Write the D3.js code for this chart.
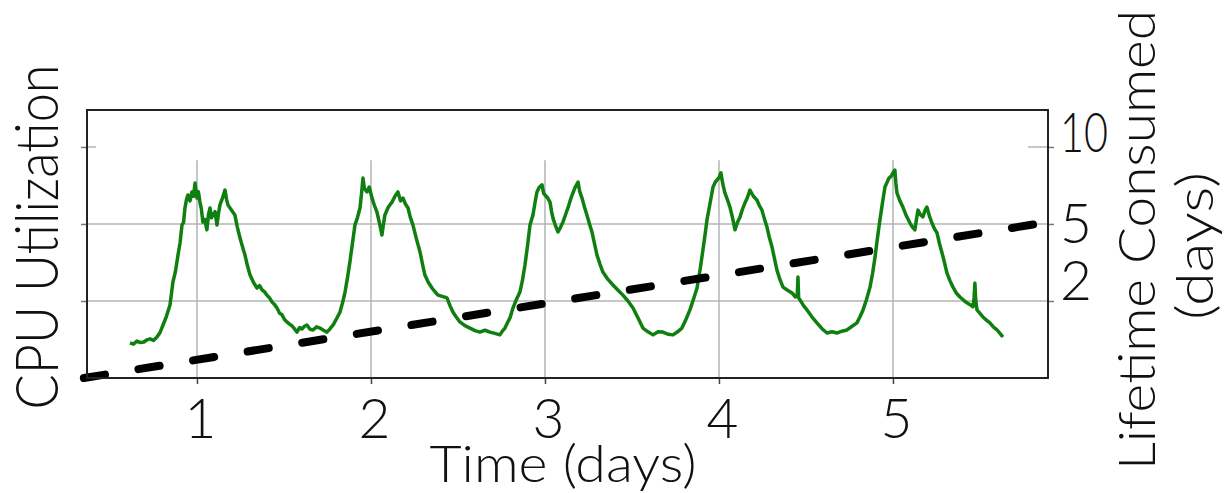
<!DOCTYPE html>
<html>
<head>
<meta charset="utf-8">
<script src="https://cdn.jsdelivr.net/npm/d3@7"></script>
<style>
  body { margin: 0; background: #fff; }
  text { font-family: Lato, "DejaVu Sans", sans-serif; font-weight: 300; fill: #111; }
</style>
</head>
<body>
<div id="chart"></div>
<script>

// Time axis (days) of the CPU trace
const timeDays = [
  0.615, 0.635, 0.655, 0.675, 0.695, 0.713, 0.730, 0.750, 0.770, 0.788, 0.805, 0.825, 0.845, 0.862, 0.876, 0.891,
  0.903, 0.914, 0.923, 0.931, 0.940, 0.948, 0.960, 0.971, 0.980, 0.989, 0.995, 1.000, 1.008, 1.017, 1.025, 1.034,
  1.045, 1.057, 1.066, 1.075, 1.083, 1.092, 1.104, 1.115, 1.124, 1.132, 1.147, 1.161, 1.170, 1.178, 1.198, 1.218,
  1.232, 1.247, 1.262, 1.276, 1.290, 1.305, 1.325, 1.345, 1.360, 1.374, 1.388, 1.402, 1.417, 1.431, 1.445, 1.460,
  1.475, 1.489, 1.503, 1.517, 1.532, 1.546, 1.560, 1.575, 1.590, 1.603, 1.618, 1.632, 1.650, 1.667, 1.687, 1.707,
  1.727, 1.747, 1.765, 1.782, 1.800, 1.822, 1.837, 1.851, 1.865, 1.879, 1.893, 1.908, 1.922, 1.937, 1.946, 1.954,
  1.962, 1.977, 1.990, 2.006, 2.020, 2.034, 2.050, 2.063, 2.072, 2.080, 2.100, 2.121, 2.138, 2.155, 2.170, 2.184,
  2.198, 2.213, 2.227, 2.241, 2.262, 2.282, 2.296, 2.310, 2.330, 2.351, 2.368, 2.385, 2.410, 2.437, 2.454, 2.471,
  2.490, 2.511, 2.540, 2.569, 2.598, 2.626, 2.655, 2.684, 2.712, 2.741, 2.755, 2.770, 2.785, 2.799, 2.816, 2.836,
  2.856, 2.870, 2.885, 2.900, 2.914, 2.931, 2.943, 2.954, 2.968, 2.983, 2.992, 3.000, 3.015, 3.029, 3.038, 3.046,
  3.060, 3.075, 3.090, 3.103, 3.118, 3.132, 3.150, 3.172, 3.190, 3.200, 3.213, 3.227, 3.241, 3.256, 3.270, 3.285,
  3.299, 3.316, 3.333, 3.362, 3.391, 3.420, 3.448, 3.477, 3.506, 3.535, 3.563, 3.592, 3.621, 3.650, 3.678, 3.707,
  3.736, 3.762, 3.787, 3.810, 3.833, 3.853, 3.874, 3.891, 3.908, 3.920, 3.931, 3.948, 3.966, 3.978, 3.989, 4.000,
  4.011, 4.022, 4.034, 4.048, 4.063, 4.078, 4.092, 4.106, 4.121, 4.135, 4.149, 4.163, 4.178, 4.198, 4.218, 4.232,
  4.247, 4.262, 4.276, 4.290, 4.305, 4.320, 4.333, 4.350, 4.368, 4.394, 4.420, 4.440, 4.450, 4.454, 4.458, 4.466,
  4.486, 4.506, 4.535, 4.563, 4.592, 4.621, 4.650, 4.678, 4.707, 4.736, 4.765, 4.793, 4.810, 4.828, 4.848, 4.868,
  4.883, 4.897, 4.911, 4.925, 4.940, 4.954, 4.966, 4.977, 4.990, 5.000, 5.011, 5.017, 5.023, 5.040, 5.057, 5.078,
  5.098, 5.112, 5.126, 5.135, 5.144, 5.158, 5.172, 5.185, 5.195, 5.210, 5.224, 5.238, 5.253, 5.268, 5.282, 5.296,
  5.310, 5.328, 5.345, 5.365, 5.385, 5.405, 5.425, 5.443, 5.460, 5.466, 5.471, 5.476, 5.483, 5.500, 5.517, 5.537,
  5.557, 5.578, 5.598, 5.615, 5.632
];

// CPU utilization (%)
const cpuUtil = [
  11.4, 11.0, 12.0, 11.5, 11.7, 12.4, 12.7, 12.2, 13.3, 14.8, 17.2, 20.1, 23.7, 31.2, 34.5, 39.9,
  44.0, 49.7, 50.5, 55.2, 58.0, 59.4, 57.5, 60.4, 59.0, 63.3, 60.0, 58.4, 60.5, 57.1, 55.0, 50.6,
  51.5, 48.1, 53.0, 55.2, 52.0, 52.9, 54.0, 49.7, 53.5, 56.2, 58.5, 61.0, 58.0, 56.2, 54.5, 52.9,
  49.0, 45.5, 42.5, 39.9, 36.5, 33.4, 31.0, 29.2, 30.0, 28.6, 28.0, 26.9, 26.0, 24.7, 23.9, 22.7,
  21.0, 20.5, 19.0, 18.2, 17.5, 16.9, 16.0, 14.9, 16.4, 15.9, 16.8, 17.2, 15.8, 15.6, 16.6, 16.2,
  15.5, 14.9, 16.0, 17.2, 19.0, 21.4, 24.5, 27.9, 32.5, 37.7, 43.5, 49.7, 52.0, 55.2, 60.0, 64.9,
  61.5, 60.4, 62.0, 58.4, 56.0, 53.9, 50.0, 46.4, 50.0, 52.9, 55.5, 57.1, 59.0, 60.4, 57.5, 58.4,
  56.5, 55.2, 52.0, 49.7, 45.0, 40.9, 37.0, 33.4, 31.0, 29.2, 28.0, 26.9, 26.5, 26.0, 23.5, 21.4,
  19.8, 18.2, 17.0, 16.2, 15.4, 14.9, 15.5, 14.9, 14.5, 14.0, 15.2, 16.2, 18.0, 19.5, 22.7, 25.5,
  27.9, 31.5, 36.7, 43.0, 49.7, 52.9, 57.0, 60.4, 62.0, 62.7, 60.0, 59.4, 58.5, 57.1, 54.0, 51.9,
  49.5, 47.4, 49.0, 50.6, 53.0, 55.2, 58.5, 61.7, 63.6, 60.5, 58.4, 55.5, 52.9, 50.0, 47.4, 43.5,
  39.9, 37.0, 34.4, 32.0, 30.2, 28.5, 26.9, 25.0, 22.7, 19.5, 16.2, 15.0, 14.0, 15.0, 14.9, 14.2,
  14.0, 15.0, 16.2, 19.0, 22.1, 25.5, 29.2, 35.0, 41.6, 46.5, 51.3, 56.5, 62.0, 63.5, 64.3, 65.0,
  66.6, 63.0, 60.1, 58.0, 55.5, 52.0, 48.1, 50.5, 52.3, 54.8, 56.8, 58.5, 61.0, 59.0, 57.8, 56.0,
  54.5, 51.5, 49.0, 45.5, 42.5, 38.5, 35.1, 32.0, 29.5, 28.5, 27.6, 26.3, 27.0, 32.8, 26.0, 25.3,
  23.5, 22.1, 19.8, 17.9, 16.0, 14.6, 15.0, 14.6, 15.2, 15.6, 16.8, 17.9, 19.8, 22.1, 25.5, 29.5,
  34.0, 39.3, 45.5, 51.3, 57.0, 62.0, 63.5, 64.9, 65.5, 66.6, 67.5, 63.0, 60.1, 57.5, 55.5, 52.5,
  50.3, 49.0, 48.1, 51.5, 54.5, 53.0, 52.3, 54.5, 55.5, 52.5, 50.3, 48.5, 47.1, 43.5, 40.6, 37.5,
  34.1, 31.5, 29.5, 27.5, 26.3, 25.3, 24.4, 23.8, 23.1, 26.0, 30.8, 25.0, 22.1, 21.0, 19.8, 18.8,
  17.9, 16.5, 15.6, 14.5, 13.3
];

// Lifetime consumed (days), dashed line end points
const lifetimeTime = [0.35, 5.891];
const lifetimeDays = [0, 5.06];

// Axis ticks
const dayTicks = [1, 2, 3, 4, 5];
const cpuGridLevels = [25, 50, 75];
const lifetimeTickLabels = ["2", "5", "10"];

const W = 1226, H = 493;
const margin = { top: 110, right: 178, bottom: 115, left: 87 };
const width = W - margin.left - margin.right;
const height = H - margin.top - margin.bottom;

const svg = d3.select("#chart")
    .append("svg")
    .attr("width", W)
    .attr("height", H);

const g = svg.append("g")
    .attr("transform", `translate(${margin.left},${margin.top})`);

// Scales
const x = d3.scaleLinear().domain([0.368, 5.891]).range([0, width]);
const yCpu = d3.scaleLinear().domain([0, 87]).range([height, 0]);
const yLife = d3.scaleLinear().domain([0, 8.7]).range([height, 0]);

const gridColor = "#b4b4b4";
const gridTop = yCpu(70.7);

// Horizontal gridlines (top one only appears as short stubs)
g.append("g")
    .selectAll("line")
    .data(cpuGridLevels.slice(0, 2))
    .join("line")
    .attr("x1", 0)
    .attr("x2", width)
    .attr("y1", d => yCpu(d))
    .attr("y2", d => yCpu(d))
    .attr("stroke", gridColor)
    .attr("stroke-width", 1.5);

const topLevel = cpuGridLevels[2];
g.append("line")
    .attr("x1", 0).attr("x2", 9)
    .attr("y1", yCpu(topLevel)).attr("y2", yCpu(topLevel))
    .attr("stroke", gridColor).attr("stroke-width", 1.5);
g.append("line")
    .attr("x1", width - 20).attr("x2", width)
    .attr("y1", yCpu(topLevel)).attr("y2", yCpu(topLevel))
    .attr("stroke", gridColor).attr("stroke-width", 1.5);

// Vertical gridlines
g.append("g")
    .selectAll("line")
    .data(dayTicks)
    .join("line")
    .attr("x1", d => x(d))
    .attr("x2", d => x(d))
    .attr("y1", gridTop)
    .attr("y2", height)
    .attr("stroke", gridColor)
    .attr("stroke-width", 1.5);

// Bottom axis: ticks + labels
const xAxis = g.append("g")
    .attr("transform", `translate(0,${height})`)
    .call(d3.axisBottom(x).tickValues(dayTicks).tickSize(6).tickPadding(15).tickFormat(d3.format("d")));
xAxis.select(".domain").remove();
xAxis.selectAll(".tick line").attr("stroke", "#444").attr("stroke-width", 1.5);
xAxis.selectAll(".tick text")
    .attr("font-size", 55)
    .attr("font-family", null)
    .attr("dx", 3)
    .attr("fill", "#111");

// Left axis: ticks only
const yAxisLeft = g.append("g")
    .call(d3.axisLeft(yCpu).tickValues(cpuGridLevels).tickSize(6).tickFormat(""));
yAxisLeft.select(".domain").remove();
yAxisLeft.selectAll(".tick line").attr("stroke", "#777").attr("stroke-width", 1.5);

// Right axis: lifetime labels at the grid levels
const labelShift = { "10": -13, "5": 1, "2": -19 };
const yAxisRight = g.append("g")
    .attr("transform", `translate(${width},0)`)
    .call(d3.axisRight(yCpu).tickValues(cpuGridLevels).tickSize(6).tickPadding(6)
        .tickFormat((d, i) => lifetimeTickLabels[i]));
yAxisRight.select(".domain").remove();
yAxisRight.selectAll(".tick line").attr("stroke", "#777").attr("stroke-width", 1.5);
yAxisRight.selectAll(".tick text")
    .attr("font-size", 55)
    .attr("font-family", null)
    .attr("fill", "#111")
    .attr("dy", function () { return (0.32 * 55 + labelShift[this.textContent]) + "px"; })
    .each(function () {
        if (this.textContent.length > 1) {
            d3.select(this).attr("textLength", 48).attr("lengthAdjust", "spacingAndGlyphs");
        }
    });

// CPU trace
const cpuData = timeDays.map((t, i) => ({ t: t, v: cpuUtil[i] }));
g.append("path")
    .datum(cpuData)
    .attr("fill", "none")
    .attr("stroke", "#0f7f0f")
    .attr("stroke-width", 3.5)
    .attr("stroke-linejoin", "round")
    .attr("d", d3.line().x(d => x(d.t)).y(d => yCpu(d.v)));

// Lifetime consumed dashed line
const lifeData = lifetimeTime.map((t, i) => ({ t: t, v: lifetimeDays[i] }));
g.append("path")
    .datum(lifeData)
    .attr("fill", "none")
    .attr("stroke", "#000")
    .attr("stroke-width", 8)
    .attr("stroke-linecap", "round")
    .attr("stroke-dasharray", "21.4,33.9")
    .attr("d", d3.line().x(d => x(d.t)).y(d => yLife(d.v)));

// Frame
g.append("rect")
    .attr("width", width)
    .attr("height", height)
    .attr("fill", "none")
    .attr("stroke", "#222")
    .attr("stroke-width", 2);

// Axis titles
svg.append("text")
    .attr("x", 563)
    .attr("y", 482)
    .attr("text-anchor", "middle")
    .attr("font-size", 52)
    .attr("textLength", 267)
    .attr("lengthAdjust", "spacingAndGlyphs")
    .text("Time (days)");

svg.append("text")
    .attr("transform", "translate(58,237) rotate(-90)")
    .attr("text-anchor", "middle")
    .attr("font-size", 59)
    .attr("textLength", 345)
    .attr("lengthAdjust", "spacingAndGlyphs")
    .text("CPU Utilization");

svg.append("text")
    .attr("transform", "translate(1155,240) rotate(-90)")
    .attr("text-anchor", "middle")
    .attr("font-size", 52)
    .attr("textLength", 460)
    .attr("lengthAdjust", "spacingAndGlyphs")
    .text("Lifetime Consumed");

svg.append("text")
    .attr("transform", "translate(1213,246) rotate(-90)")
    .attr("text-anchor", "middle")
    .attr("font-size", 52)
    .attr("textLength", 148)
    .attr("lengthAdjust", "spacingAndGlyphs")
    .text("(days)");

</script>
</body>
</html>
